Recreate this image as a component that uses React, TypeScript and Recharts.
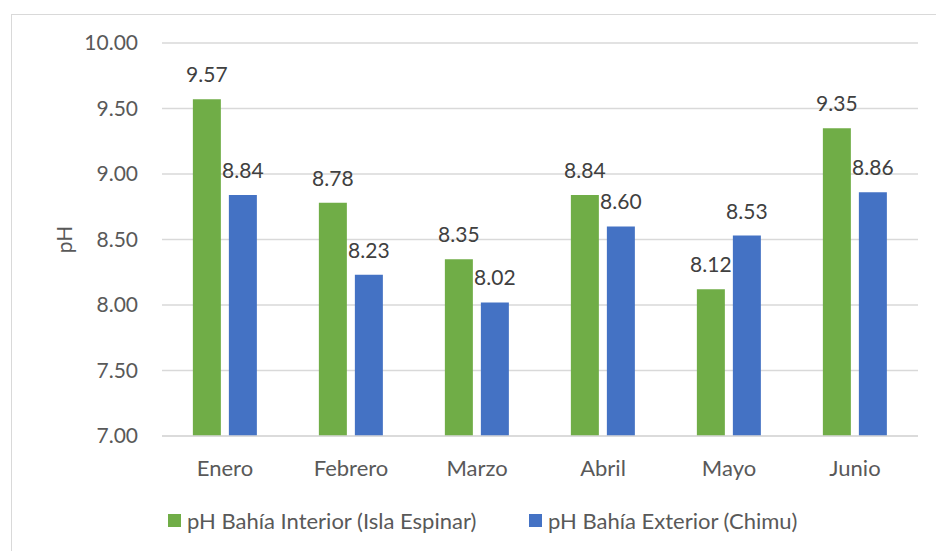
import React from 'react';
import { BarChart, Bar, XAxis, YAxis, CartesianGrid, LabelList } from 'recharts';

const months = ['Enero', 'Febrero', 'Marzo', 'Abril', 'Mayo', 'Junio'];
const interior = [9.57, 8.78, 8.35, 8.84, 8.12, 9.35];
const exterior = [8.84, 8.23, 8.02, 8.60, 8.53, 8.86];
const yTicks = [7, 7.5, 8, 8.5, 9, 9.5, 10];

const seriesNames = ['pH Bahía Interior (Isla Espinar)', 'pH Bahía Exterior (Chimu)'];
const GREEN = '#70ad47';
const BLUE = '#4472c4';
const FONT = 'Lato, "Open Sans", sans-serif';

const data = months.map((m, i) => ({ month: m, interior: interior[i], exterior: exterior[i] }));

const fmt = (v: any) => Number(v).toFixed(2);

const YLabel = ({ viewBox }: any) => {
  const cx = viewBox.x + 1;
  const cy = viewBox.y + viewBox.height / 2;
  return (
    <text x={cx} y={cy} transform={`rotate(-90 ${cx} ${cy})`} textAnchor="middle" dominantBaseline="central"
      fill="#595959" fontSize={21} fontFamily={FONT}>pH</text>
  );
};

const App = () => {
  return (
    <div style={{ position: 'absolute', left: 0, top: 0, width: 936, height: 551, background: '#fff', overflow: 'hidden', fontFamily: FONT }}>
      <div style={{ position: 'absolute', left: 11, top: 14, width: 1000, height: 600, border: '1.5px solid #d9d9d9', boxSizing: 'border-box' }} />
      <div style={{ position: 'absolute', left: 0, top: 0 }}>
        <BarChart width={936} height={551} data={data} margin={{ top: 43, right: 18, bottom: 0, left: 62 }}
          barGap={8} barCategoryGap="24.5%">
          <CartesianGrid vertical={false} stroke="#d9d9d9" strokeWidth={1.3} />
          <XAxis dataKey="month" axisLine={{ stroke: '#d9d9d9', strokeWidth: 1.3 }} tickLine={false} tickSize={0} tickMargin={24}
            tick={{ fill: '#595959', fontSize: 22, fontFamily: FONT }} height={115} />
          <YAxis domain={[7, 10]} ticks={yTicks} tickFormatter={fmt} axisLine={false} tickLine={false} tickSize={0} tickMargin={24}
            width={100} tick={{ fill: '#595959', fontSize: 21, fontFamily: FONT }} label={<YLabel />} interval={0} />
          <Bar dataKey="interior" fill={GREEN} isAnimationActive={false}>
            <LabelList dataKey="interior" position="top" offset={17} formatter={fmt} fill="#404040" fontSize={21} fontFamily={FONT} />
          </Bar>
          <Bar dataKey="exterior" fill={BLUE} isAnimationActive={false}>
            <LabelList dataKey="exterior" position="top" offset={17} formatter={fmt} fill="#404040" fontSize={21} fontFamily={FONT} />
          </Bar>
        </BarChart>
      </div>
      <div style={{ position: 'absolute', left: 168, top: 508, display: 'flex', alignItems: 'center', color: '#595959', fontSize: 22, height: 24 }}>
        <span style={{ width: 13, height: 13, background: GREEN, display: 'inline-block' }} />
        <span style={{ marginLeft: 6 }}>{seriesNames[0]}</span>
      </div>
      <div style={{ position: 'absolute', left: 529, top: 508, display: 'flex', alignItems: 'center', color: '#595959', fontSize: 22, height: 24 }}>
        <span style={{ width: 13, height: 13, background: BLUE, display: 'inline-block' }} />
        <span style={{ marginLeft: 6 }}>{seriesNames[1]}</span>
      </div>
    </div>
  );
};

export default App;
